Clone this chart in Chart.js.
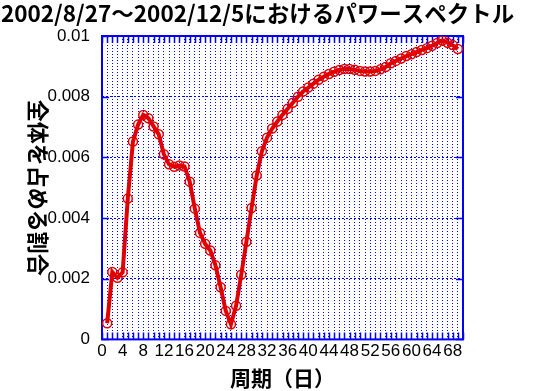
<!DOCTYPE html>
<html>
<head>
<meta charset="utf-8">
<script src="https://cdn.jsdelivr.net/npm/chart.js@4.4.1/dist/chart.umd.min.js"></script>
<style>
  html, body { margin: 0; padding: 0; background: #fff; }
  #wrap { width: 536px; height: 391px; }
</style>
</head>
<body>
<div id="wrap"><canvas id="spectrumChart" width="536" height="391"></canvas></div>
<script>
// Data
const periods = [1, 2, 3, 4, 5, 6, 7, 8, 9, 10, 11, 12, 13, 14, 15, 16, 17, 18, 19, 20,
    21, 22, 23, 24, 25, 26, 27, 28, 29, 30, 31, 32, 33, 34, 35, 36, 37, 38, 39, 40,
    41, 42, 43, 44, 45, 46, 47, 48, 49, 50, 51, 52, 53, 54, 55, 56, 57, 58, 59, 60,
    61, 62, 63, 64, 65, 66, 67, 68, 69];
const ratios = [0.00053, 0.00222, 0.00203, 0.00221, 0.00464, 0.00652, 0.00708, 0.0074, 0.00729, 0.00702,
    0.00676, 0.0061, 0.00577, 0.00569, 0.00573, 0.0057, 0.0052, 0.00431, 0.00351, 0.00315,
    0.00293, 0.00244, 0.00172, 0.00094, 0.0005, 0.00111, 0.00213, 0.00322, 0.00433, 0.0054,
    0.0062, 0.00665, 0.00695, 0.00718, 0.0074, 0.0076, 0.0078, 0.008, 0.00817, 0.0083,
    0.00843, 0.00856, 0.00866, 0.00875, 0.00882, 0.00888, 0.00891, 0.00891, 0.00889, 0.00885,
    0.00883, 0.00883, 0.00885, 0.0089, 0.00898, 0.0091, 0.00918, 0.00926, 0.00934, 0.0094,
    0.00947, 0.00954, 0.0096, 0.00968, 0.00977, 0.00985, 0.00978, 0.0097, 0.00957];
const xTickLabels = [0, 4, 8, 12, 16, 20, 24, 28, 32, 36, 40, 44, 48, 52, 56, 60, 64, 68];
const yTickLabels = ['0', '0.002', '0.004', '0.006', '0.008', '0.01'];

const titleText = '2002/8/27～2002/12/5におけるパワースペクトル';
const xTitle = '周期（日）';
const yTitle = '全体を占める割合';

const blue = '#0000ff';
const red = '#e00000';
const jp = '"Noto Sans CJK JP", "Noto Sans", sans-serif';
const tickFont = { family: '"Liberation Sans", Arial, sans-serif', size: 17 };

// frame, inward tick marks, title and rotated y title
const framePlugin = {
    id: 'frame',
    beforeDatasetsDraw(chart) {
        const { ctx, chartArea: a, scales: { x, y } } = chart;
        ctx.save();
        ctx.strokeStyle = blue;
        ctx.lineWidth = 1.5;
        ctx.beginPath();
        x.ticks.forEach(t => {
            const px = Math.round(x.getPixelForValue(t.value)) + 0.5;
            ctx.moveTo(px, a.bottom); ctx.lineTo(px, a.bottom - 7);
            ctx.moveTo(px, a.top); ctx.lineTo(px, a.top + 7);
        });
        y.ticks.forEach(t => {
            const py = Math.round(y.getPixelForValue(t.value)) + 0.5;
            ctx.moveTo(a.left, py); ctx.lineTo(a.left + 7, py);
            ctx.moveTo(a.right, py); ctx.lineTo(a.right - 7, py);
        });
        ctx.stroke();
        ctx.lineWidth = 2;
        ctx.strokeRect(a.left, a.top, a.right - a.left, a.bottom - a.top);
        ctx.restore();
    },
    afterDraw(chart) {
        const { ctx, chartArea: a } = chart;
        ctx.save();
        ctx.fillStyle = '#000';
        ctx.font = 'bold 22.5px ' + jp;
        ctx.textAlign = 'left';
        ctx.textBaseline = 'middle';
        ctx.fillText(titleText, 1, 13, 522);

        ctx.translate(38, (a.top + a.bottom) / 2);
        ctx.rotate(Math.PI / 2);
        ctx.font = 'bold 22px ' + jp;
        ctx.textAlign = 'center';
        ctx.fillText(yTitle, 0, 0);
        ctx.restore();
    }
};

const ctx = document.getElementById('spectrumChart').getContext('2d');
new Chart(ctx, {
    type: 'line',
    data: {
        labels: periods,
        datasets: [{
            data: periods.map((p, i) => ({ x: p, y: ratios[i] })),
            borderColor: red,
            borderWidth: 4,
            pointRadius: 4.5,
            pointBorderWidth: 1.5,
            pointBorderColor: red,
            pointBackgroundColor: 'rgba(0,0,0,0)',
            tension: 0
        }]
    },
    options: {
        responsive: false,
        animation: false,
        layout: { padding: { left: 0, right: 73, top: 36, bottom: 0 } },
        plugins: {
            legend: { display: false },
            tooltip: { enabled: false },
            title: { display: false }
        },
        scales: {
            x: {
                type: 'linear',
                min: 0,
                max: 70,
                ticks: {
                    stepSize: 1,
                    autoSkip: false,
                    maxRotation: 0,
                    color: '#000',
                    font: tickFont,
                    padding: 2,
                    callback: v => xTickLabels.includes(v) ? String(v) : ''
                },
                grid: { color: blue, lineWidth: 1, drawTicks: false },
                border: { display: false, dash: [1, 2] },
                title: {
                    display: true,
                    text: xTitle,
                    color: '#000',
                    font: { family: jp, size: 21, weight: 'bold' },
                    padding: { top: 2, bottom: 0 }
                }
            },
            y: {
                min: 0,
                max: 0.01,
                afterFit: s => { s.width = 102; },
                ticks: {
                    stepSize: 0.002,
                    color: '#000',
                    font: tickFont,
                    padding: 12,
                    callback: (v, i) => yTickLabels[i]
                },
                grid: { color: blue, lineWidth: 1, drawTicks: false },
                border: { display: false, dash: [2, 2] }
            }
        }
    },
    plugins: [framePlugin]
});
</script>
</body>
</html>
